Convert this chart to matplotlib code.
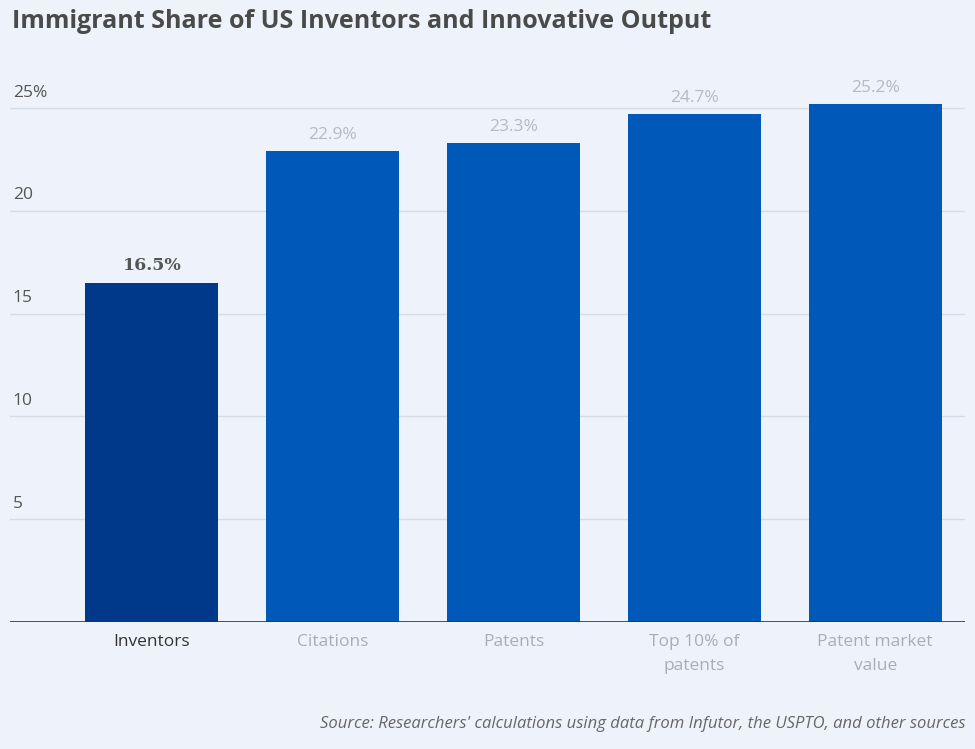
import matplotlib.pyplot as plt

categories = ['Inventors', 'Citations', 'Patents', 'Top 10% of\npatents', 'Patent market\nvalue']
shares = [16.5, 22.9, 23.3, 24.7, 25.2]
yticks = [5, 10, 15, 20, 25]
ytick_labels = ['5', '10', '15', '20', '25%']

plt.rcParams['font.family'] = ['Open Sans', 'DejaVu Sans']
bg = '#eef3fb'
fig = plt.figure(figsize=(9.75, 7.49), dpi=100, facecolor=bg)
ax = fig.add_axes([10/975, 1 - 622/749, 955/975, 545/749], facecolor=bg)

colors = ['#00388a'] + ['#0059b8'] * 4
x = range(len(categories))
ax.bar(x, shares, width=0.735, color=colors, zorder=3)
for i, v in enumerate(shares):
    if i == 0:
        ax.text(i, v + 0.4, f'{v}%', ha='center', va='bottom', fontsize=12.5,
                fontweight='bold', color='#555555', family='DejaVu Serif')
    else:
        ax.text(i, v + 0.4, f'{v}%', ha='center', va='bottom', fontsize=12.5, color='#b4bac4')

ax.set_xlim(-0.785, 4.497)
ax.set_ylim(0, 26.5)
for t, lab in zip(yticks, ytick_labels):
    ax.axhline(t, color='#d6dce6', lw=1, zorder=1)
    ax.text(-0.77, t + 0.35, lab, ha='left', va='bottom', fontsize=12.5, color='#555555')
ax.axhline(0, color='#333333', lw=1.2, zorder=4)

ax.set_yticks([])
ax.set_xticks(list(x))
ax.set_xticklabels(categories, fontsize=12.5, linespacing=1.6)
for i, lbl in enumerate(ax.get_xticklabels()):
    lbl.set_color('#333333' if i == 0 else '#a8aeb8')
ax.tick_params(axis='x', length=0, pad=9)
for s in ax.spines.values():
    s.set_visible(False)

fig.text(12/975, 1 - 22/749, 'Immigrant Share of US Inventors and Innovative Output',
         fontsize=18, fontweight='bold', color='#4a4a4a', va='center')
fig.text(965/975, 1 - 724/749,
         "Source: Researchers' calculations using data from Infutor, the USPTO, and other sources",
         fontsize=12, style='italic', color='#666666', ha='right', va='center')

fig.savefig('out.png', dpi=100, facecolor=bg)
